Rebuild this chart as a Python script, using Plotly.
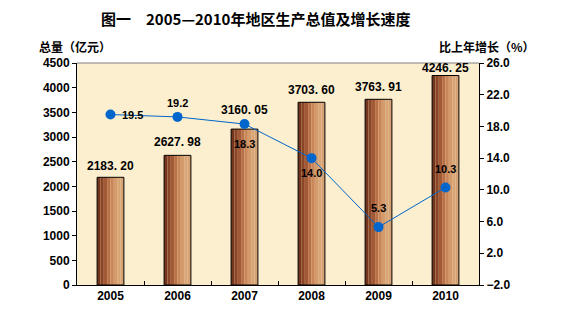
import plotly.graph_objects as go

years = ["2005", "2006", "2007", "2008", "2009", "2010"]
gdp = [2183.20, 2627.98, 3160.05, 3703.60, 3763.91, 4246.25]
growth = [19.5, 19.2, 18.3, 14.0, 5.3, 10.3]

# label offsets in pixels (styling only)
gdp_label_shift = [11, 13, 19, 12, 12, 8]
growth_label_shift = [(22, 0), (0, 14), (0, -20), (0, -15), (0, 19), (0, 18)]

num_font = dict(family="Liberation Sans, Arial", size=12, color="black", weight="bold")
lbl_font = dict(family="Liberation Sans, Arial", size=11, color="black", weight="bold")
cjk_font = dict(family="Noto Sans CJK SC", size=12, color="black", weight="bold")

fig = go.Figure()

# bar gradient strips (left dark -> right light)
strip_colors = ["#74351C", "#8A4527", "#A25A36", "#B87048", "#C98659", "#D39A6C",
                "#D8A577", "#D6A274"]
bar_w = 0.4
n = len(strip_colors)
for i, c in enumerate(strip_colors):
    fig.add_trace(go.Bar(
        x=years, y=gdp, width=bar_w / n, offset=-bar_w / 2 + i * bar_w / n,
        marker=dict(color=c, line=dict(width=0)), showlegend=False, hoverinfo="skip",
    ))

# outline
fig.add_trace(go.Bar(
    x=years, y=gdp, width=bar_w, offset=-bar_w / 2,
    marker=dict(color="rgba(0,0,0,0)", line=dict(color="black", width=1)),
    showlegend=False,
))

fig.add_trace(go.Scatter(
    x=years, y=growth, yaxis="y2", mode="lines+markers",
    line=dict(color="#0066CC", width=1),
    marker=dict(color="#0066CC", size=10),
    showlegend=False,
))

annotations = [
    dict(text="图一　2005—2010年地区生产总值及增长速度", xref="paper", yref="paper",
         x=(255 - 77) / 402, y=1 + (63 - 18) / 222, xanchor="center", yanchor="middle",
         showarrow=False, font=dict(family="Noto Sans CJK SC", size=15, color="black", weight="bold")),
    dict(text="总量（亿元）", xref="paper", yref="paper",
         x=(37 - 77) / 402, y=1 + (63 - 46) / 222, xanchor="left", yanchor="middle",
         showarrow=False, font=cjk_font),
    dict(text="比上年增长（%）", xref="paper", yref="paper",
         x=(537 - 77) / 402, y=1 + (63 - 46) / 222, xanchor="right", yanchor="middle",
         showarrow=False, font=cjk_font),
]
for i, (v, s) in enumerate(zip(gdp, gdp_label_shift)):
    annotations.append(dict(text=f"{v:.2f}".replace(".", ". "), x=i, y=v, xref="x", yref="y",
                            yshift=s, xanchor="center", yanchor="middle", showarrow=False,
                            font=num_font))
for i, (v, (dx, dy)) in enumerate(zip(growth, growth_label_shift)):
    annotations.append(dict(text=f"{v:.1f}", x=i, y=v, xref="x", yref="y2",
                            xshift=dx, yshift=dy, xanchor="center", yanchor="middle",
                            showarrow=False, font=lbl_font))

fig.update_layout(
    width=562, height=329,
    margin=dict(l=77, r=83, t=63, b=44),
    paper_bgcolor="white", plot_bgcolor="#FCEFCF",
    barmode="overlay",
    xaxis=dict(type="category", range=[-0.5, len(years) - 0.5], showline=True,
               linecolor="black", linewidth=1,
               ticks="inside", tickson="boundaries", ticklen=4, tickcolor="black",
               tickfont=num_font, showgrid=False, zeroline=False),
    yaxis=dict(range=[0, 4500], dtick=500, showline=True, linecolor="black", linewidth=1,
               ticks="outside", ticklen=4, tickcolor="black", tickfont=num_font,
               showgrid=False, zeroline=False),
    yaxis2=dict(range=[-2, 26], tick0=-2, dtick=4, tickformat=".1f", overlaying="y",
                side="right", showline=True, linecolor="black", linewidth=1,
                ticks="outside", ticklen=4, tickcolor="black", tickfont=num_font,
                showgrid=False, zeroline=False),
    shapes=[dict(type="line", xref="paper", yref="paper", x0=0, x1=1, y0=1, y1=1,
                 line=dict(color="#808080", width=1))],
    annotations=annotations,
)

fig.write_html("out.html")
